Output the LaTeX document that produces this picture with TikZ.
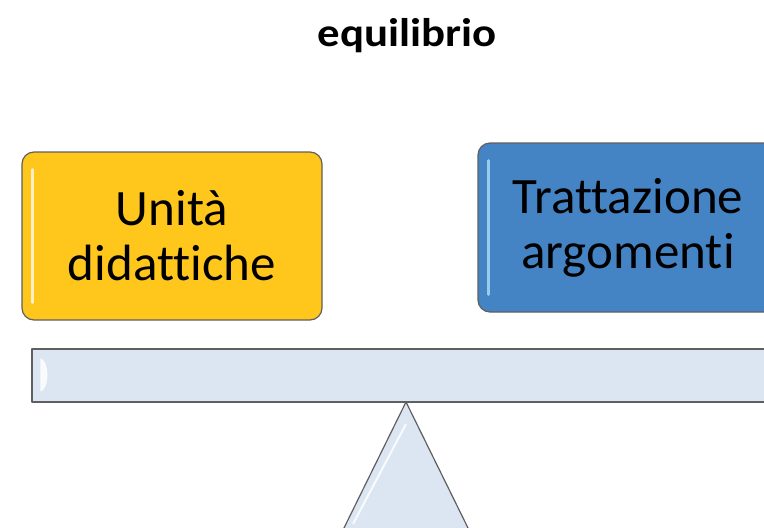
\documentclass[tikz,border=0pt]{standalone}
\usepackage{fontspec}
\setmainfont{Carlito}[Ligatures=NoCommon]
\newfontfamily\titlefont{Carlito}[Ligatures=NoCommon, FakeStretch=1.12]
\usepackage{tikz}
\definecolor{gold}{RGB}{255,198,28}
\definecolor{steel}{RGB}{68,131,196}
\definecolor{ice}{RGB}{220,230,242}
\definecolor{rim}{RGB}{95,95,95}

\begin{document}
\begin{tikzpicture}[x=1pt,y=-1pt, inner sep=0pt, line join=round,
  box/.style={draw=rim, line width=1.2pt, rounded corners=12pt, minimum width=300pt,
    minimum height=168pt, align=center, font=\fontsize{51}{55}\selectfont},
  bar/.style={draw=rim, line width=1.2pt, fill=ice},
  gloss/.style={white, line width=2.5pt, line cap=round, opacity=0.75}]
\useasboundingbox (0,0) rectangle (764,528);
\clip (0,0) rectangle (764,528);
\node (eq) at (407,36) {\titlefont\fontsize{40}{48}\selectfont\bfseries equilibrio};
\node (ud) at (172,236) [box, fill=gold] {Unità\\didattiche};
\node (ta) at (628,227.5) [box, fill=steel, minimum height=169pt] {Trattazione\\argomenti};
\node (beam) at (402,375.5) [bar, minimum width=740pt, minimum height=53pt] {};
\coordinate (tip) at (406,402);
\coordinate (bl) at (343,530);
\coordinate (br) at (469,530);
\draw[bar] (bl) -- (tip) -- (br) -- cycle;
\draw[gloss] ([xshift=11pt,yshift=-18pt]ud.north west) -- ([xshift=11pt,yshift=18pt]ud.south west);
\draw[gloss, white!70!cyan] ([xshift=11pt,yshift=-18pt]ta.north west) -- ([xshift=11pt,yshift=18pt]ta.south west);
\fill[white, opacity=0.8] ([xshift=9pt,yshift=-10pt]beam.north west) arc[start angle=90, end angle=-90, x radius=7pt, y radius=16.5pt] -- cycle;
\draw[white, line width=2pt, opacity=0.8] ([xshift=10pt,yshift=6pt]bl) -- ([yshift=-22pt]tip);
\end{tikzpicture}
\end{document}
